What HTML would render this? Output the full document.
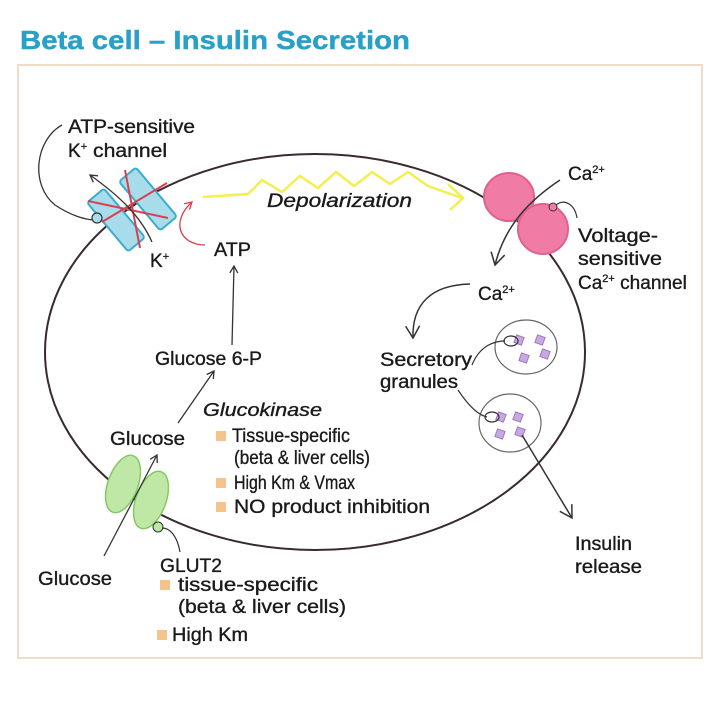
<!DOCTYPE html>
<html><head><meta charset="utf-8"><style>
html,body{margin:0;padding:0;background:#fff;width:720px;height:720px;overflow:hidden}
svg text{font-family:"Liberation Sans",sans-serif;fill:#1a1a1a;stroke:#1a1a1a;stroke-width:0.35}
</style></head><body>
<svg width="720" height="720" viewBox="0 0 720 720" xmlns="http://www.w3.org/2000/svg">
<defs>
<marker id="a" markerWidth="10" markerHeight="10" refX="8" refY="5" orient="auto" markerUnits="userSpaceOnUse"><path d="M1,1 L8,5 L1,9" fill="none" stroke="#333" stroke-width="1.3"/></marker>
<marker id="ar" markerWidth="10" markerHeight="10" refX="8" refY="5" orient="auto" markerUnits="userSpaceOnUse"><path d="M1,1 L8,5 L1,9" fill="none" stroke="#d84050" stroke-width="1.3"/></marker>
<marker id="ab" markerWidth="16" markerHeight="16" refX="13" refY="8" orient="auto" markerUnits="userSpaceOnUse"><path d="M1,1 L13,8 L1,15" fill="none" stroke="#333" stroke-width="1.5"/></marker>
</defs>
<text x="20" y="49" textLength="390" lengthAdjust="spacingAndGlyphs" style="font-weight:bold;font-size:26px;fill:#29a0c8;stroke:#29a0c8;stroke-width:0.4">Beta cell – Insulin Secretion</text>
<rect x="18" y="65" width="684" height="593" fill="none" stroke="#f0dcc8" stroke-width="2"/>
<ellipse cx="315" cy="352" rx="270" ry="198" fill="none" stroke="#3a2a30" stroke-width="2"/>
<!-- K channel -->
<g transform="translate(116,220) rotate(50)"><rect x="-32" y="-11" width="64" height="22" rx="3" fill="#a8dcea" stroke="#3aaccc" stroke-width="2"/></g>
<g transform="translate(148,199) rotate(50)"><rect x="-32" y="-11" width="64" height="22" rx="3" fill="#a8dcea" stroke="#3aaccc" stroke-width="2"/></g>
<line x1="102" y1="222" x2="167" y2="183" stroke="#d84050" stroke-width="2"/>
<line x1="88" y1="201" x2="168" y2="218" stroke="#d84050" stroke-width="2"/>
<line x1="125" y1="170" x2="140" y2="248" stroke="#d84050" stroke-width="2"/>
<path d="M152,242 C140,215 118,195 90,175" fill="none" stroke="#333" stroke-width="1.3" marker-end="url(#a)"/>
<path d="M62,125 C35,140 30,185 55,205 C70,215 85,220 95,220" fill="none" stroke="#333" stroke-width="1.3"/>
<circle cx="97" cy="218" r="5" fill="#a8dcea" stroke="#333" stroke-width="1.2"/>
<path d="M205,245 C180,245 170,222 192,202" fill="none" stroke="#d84050" stroke-width="1.3" marker-end="url(#ar)"/>
<text x="68" y="133" font-size="19" textLength="127" lengthAdjust="spacingAndGlyphs">ATP-sensitive</text>
<text x="68" y="157" font-size="19">K<tspan font-size="11" dy="-7">+</tspan><tspan dy="7" textLength="80" lengthAdjust="spacingAndGlyphs"> channel</tspan></text>
<text x="150" y="267" font-size="19">K<tspan font-size="11" dy="-7">+</tspan></text>
<text x="214" y="256" font-size="19" textLength="37" lengthAdjust="spacingAndGlyphs">ATP</text>
<line x1="232" y1="345" x2="234" y2="266" stroke="#333" stroke-width="1.3" marker-end="url(#a)"/>
<!-- depolarization -->
<polyline points="203,197 248,194 262,180 282,192 300,176 318,188 336,172 354,186 372,172 390,184 408,172 428,186 462,198" fill="none" stroke="#f4ef50" stroke-width="2.5"/>
<path d="M448,184 L463,198 L450,210" fill="none" stroke="#f4ef50" stroke-width="2.5"/>
<text x="267" y="207" font-size="19" font-style="italic" textLength="145" lengthAdjust="spacingAndGlyphs">Depolarization</text>
<!-- Ca channel -->
<ellipse cx="509" cy="197" rx="25" ry="24" fill="#f07ca6" stroke="#e0608f" stroke-width="2"/>
<ellipse cx="543" cy="229" rx="25" ry="25" fill="#f07ca6" stroke="#e0608f" stroke-width="2"/>
<path d="M560,180 C530,200 505,225 495,265" fill="none" stroke="#333" stroke-width="1.5" marker-end="url(#ab)"/>
<circle cx="553" cy="207" r="4" fill="#f07ca6" stroke="#333" stroke-width="1"/>
<path d="M556,205 C565,198 575,205 577,218" fill="none" stroke="#333" stroke-width="1.2"/>
<text x="568" y="180" font-size="19">Ca<tspan font-size="11" dy="-7">2+</tspan></text>
<text x="478" y="300" font-size="19">Ca<tspan font-size="11" dy="-7">2+</tspan></text>
<text x="578" y="242" font-size="19" textLength="80" lengthAdjust="spacingAndGlyphs">Voltage-</text>
<text x="578" y="265" font-size="19" textLength="84" lengthAdjust="spacingAndGlyphs">sensitive</text>
<text x="578" y="289" font-size="19">Ca<tspan font-size="11" dy="-7">2+</tspan><tspan dy="7" textLength="72" lengthAdjust="spacingAndGlyphs"> channel</tspan></text>
<path d="M470,284 C430,285 412,305 413,338" fill="none" stroke="#333" stroke-width="1.5" marker-end="url(#ab)"/>
<!-- granules -->
<ellipse cx="526" cy="347" rx="31" ry="27" fill="none" stroke="#666" stroke-width="1.2"/>
<ellipse cx="510" cy="423" rx="31" ry="29" fill="none" stroke="#666" stroke-width="1.2"/>
<g fill="#c8a8e0" stroke="#9a78c0" stroke-width="1">
<rect x="515" y="336" width="8" height="8" transform="rotate(20 519 340)"/><rect x="536" y="336" width="8" height="8" transform="rotate(20 540 340)"/>
<rect x="520" y="354" width="8" height="8" transform="rotate(20 524 358)"/><rect x="541" y="350" width="8" height="8" transform="rotate(20 545 354)"/>
<rect x="497" y="413" width="8" height="8" transform="rotate(20 501 417)"/><rect x="514" y="413" width="8" height="8" transform="rotate(20 518 417)"/>
<rect x="496" y="430" width="8" height="8" transform="rotate(20 500 434)"/><rect x="516" y="428" width="8" height="8" transform="rotate(20 520 432)"/>
</g>
<ellipse cx="511" cy="341" rx="7" ry="5" fill="none" stroke="#333" stroke-width="1.2"/>
<ellipse cx="492" cy="417" rx="7" ry="5" fill="none" stroke="#333" stroke-width="1.2"/>
<path d="M472,365 C480,345 495,341 505,341" fill="none" stroke="#333" stroke-width="1.2"/>
<path d="M458,390 C468,405 478,415 487,417" fill="none" stroke="#333" stroke-width="1.2"/>
<text x="380" y="366" font-size="19" textLength="92" lengthAdjust="spacingAndGlyphs">Secretory</text>
<text x="380" y="388" font-size="19" textLength="78" lengthAdjust="spacingAndGlyphs">granules</text>
<line x1="522" y1="435" x2="572" y2="518" stroke="#333" stroke-width="1.5" marker-end="url(#ab)"/>
<text x="575" y="550" font-size="19" textLength="57" lengthAdjust="spacingAndGlyphs">Insulin</text>
<text x="575" y="573" font-size="19" textLength="67" lengthAdjust="spacingAndGlyphs">release</text>
<!-- glucose path -->
<text x="155" y="365" font-size="19" textLength="107" lengthAdjust="spacingAndGlyphs">Glucose 6-P</text>
<line x1="178" y1="423" x2="214" y2="371" stroke="#333" stroke-width="1.3" marker-end="url(#a)"/>
<text x="110" y="445" font-size="19" textLength="75" lengthAdjust="spacingAndGlyphs">Glucose</text>
<text x="203" y="416" font-size="18" font-style="italic" textLength="119" lengthAdjust="spacingAndGlyphs">Glucokinase</text>
<g fill="#f5c48a"><rect x="216" y="431" width="10" height="10"/><rect x="216" y="478" width="10" height="10"/><rect x="216" y="502" width="10" height="10"/><rect x="160" y="580" width="10" height="10"/><rect x="157" y="630" width="10" height="10"/></g>
<text x="232" y="442" font-size="19" textLength="118" lengthAdjust="spacingAndGlyphs">Tissue-specific</text>
<text x="234" y="464" font-size="19" textLength="136" lengthAdjust="spacingAndGlyphs">(beta &amp; liver cells)</text>
<text x="234" y="489" font-size="19" textLength="121" lengthAdjust="spacingAndGlyphs">High Km &amp; Vmax</text>
<text x="234" y="513" font-size="19" textLength="196" lengthAdjust="spacingAndGlyphs">NO product inhibition</text>
<!-- GLUT2 -->
<ellipse cx="123" cy="484" rx="15" ry="30" transform="rotate(20 123 484)" fill="#bfe8a6" stroke="#86c864" stroke-width="1.5"/>
<ellipse cx="151" cy="500" rx="15" ry="30" transform="rotate(20 151 500)" fill="#bfe8a6" stroke="#86c864" stroke-width="1.5"/>
<line x1="104" y1="556" x2="157" y2="455" stroke="#333" stroke-width="1.3" marker-end="url(#a)"/>
<circle cx="158" cy="527" r="5" fill="#bfe8a6" stroke="#333" stroke-width="1"/>
<path d="M162,528 C172,528 178,540 180,552" fill="none" stroke="#333" stroke-width="1.2"/>
<text x="38" y="585" font-size="19" textLength="74" lengthAdjust="spacingAndGlyphs">Glucose</text>
<text x="160" y="572" font-size="19" textLength="62" lengthAdjust="spacingAndGlyphs">GLUT2</text>
<text x="178" y="591" font-size="19" textLength="140" lengthAdjust="spacingAndGlyphs">tissue-specific</text>
<text x="178" y="613" font-size="19" textLength="168" lengthAdjust="spacingAndGlyphs">(beta &amp; liver cells)</text>
<text x="172" y="641" font-size="19" textLength="76" lengthAdjust="spacingAndGlyphs">High Km</text>
</svg>
</body></html>
